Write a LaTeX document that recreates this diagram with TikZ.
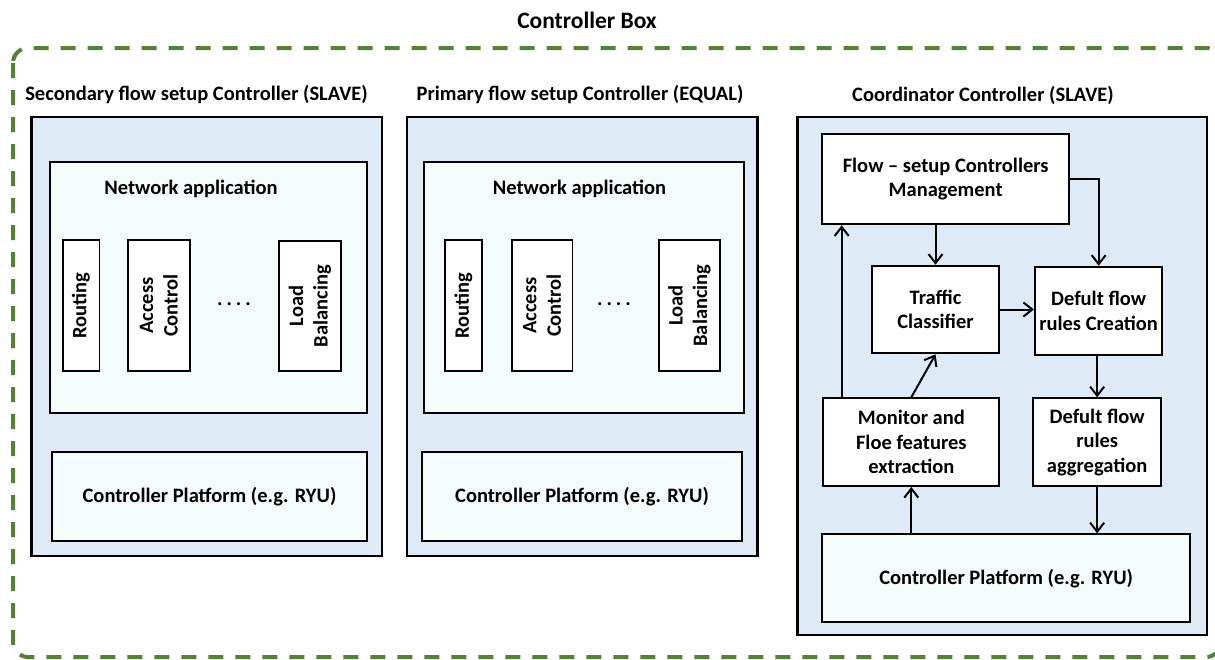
\documentclass[tikz,border=0pt]{standalone}
\usepackage{fontspec}
\setmainfont{Carlito}
\usetikzlibrary{arrows.meta}
\definecolor{panelblue}{HTML}{DEEBF7}
\definecolor{appmint}{HTML}{F3FCFA}
\definecolor{boxgreen}{HTML}{548235}
\newcommand{\moduledots}{.\hspace{4pt}.\hspace{4pt}.\hspace{4pt}.}
\tikzset{
  panel/.style={draw=black, line width=2.4pt, fill=panelblue, inner sep=0pt},
  appbox/.style={draw=black, line width=2pt, fill=appmint, inner sep=0pt, align=center},
  module/.style={draw=black, line width=1.6pt, fill=white, inner sep=0pt},
  flowbox/.style={draw=black, line width=2pt, fill=white, inner sep=0pt, align=center},
  caption/.style={inner sep=0pt, align=center},
  arr/.style={line width=2pt, -{Straight Barb[length=9pt,width=14pt]}},
}
\begin{document}
\begin{tikzpicture}[x=1pt, y=-1pt, font=\bfseries\fontsize{20.5}{24.5}\selectfont]
\useasboundingbox (0,0) rectangle (1215,659);

% outer dashed enclosure
\draw[boxgreen, line width=4pt, dash pattern=on 15pt off 12pt, rounded corners=15pt]
  (13,48) rectangle (1221,657);
\node[caption, font=\bfseries\fontsize{23.5}{28}\selectfont] (title) at (587,20) {Controller Box};

% ---------- secondary controller ----------
\node[caption] (t1) at (196.5,95) {Secondary flow setup Controller (SLAVE)};
\node[panel, minimum width=350.5pt, minimum height=439pt] (p1) at (206.75,336.5) {};
\node[appbox, minimum width=316.5pt, minimum height=251.5pt] (n1) at (208.25,287.25) {};
\node[caption] (n1t) at (191,189) {Network application};
\node[module, minimum width=36.6pt, minimum height=131pt] (r1) at (81,305.5) {};
\node[module, minimum width=62pt, minimum height=131pt] (a1) at (158.7,305.5) {};
\node[module, minimum width=61.7pt, minimum height=130pt] (l1) at (309.85,306) {};
\node[caption, rotate=90] (r1t) at (r1) {Routing};
\node[caption, rotate=90] (a1t) at (a1) {Access\\Control};
\node[caption, rotate=90] (l1t) at (l1) {Load\\Balancing};
\node[caption, anchor=base] (d1) at (234,305) {\moduledots};
\node[appbox, minimum width=314.4pt, minimum height=89.3pt] (c1) at (209.5,496.35) {Controller Platform (e.g. RYU)};

% ---------- primary controller ----------
\node[caption] (t2) at (580,95) {Primary flow setup Controller (EQUAL)};
\node[panel, minimum width=350.5pt, minimum height=439pt] (p2) at (582.25,336.5) {};
\node[appbox, minimum width=319.5pt, minimum height=251.5pt] (n2) at (583.75,287.25) {};
\node[caption] (n2t) at (579.5,189) {Network application};
\node[module, minimum width=36.7pt, minimum height=131pt] (r2) at (463.35,305.5) {};
\node[module, minimum width=60.6pt, minimum height=131pt] (a2) at (542,305.5) {};
\node[module, minimum width=61pt, minimum height=131pt] (l2) at (689.5,305.5) {};
\node[caption, rotate=90] (r2t) at (r2) {Routing};
\node[caption, rotate=90] (a2t) at (a2) {Access\\Control};
\node[caption, rotate=90] (l2t) at (l2) {Load\\Balancing};
\node[caption, anchor=base] (d2) at (614,305) {\moduledots};
\node[appbox, minimum width=319.4pt, minimum height=89.3pt] (c2) at (582,496.35) {Controller Platform (e.g. RYU)};

% ---------- coordinator controller ----------
\node[caption] (t3) at (983,95) {Coordinator Controller (SLAVE)};
\node[panel, minimum width=409.5pt, minimum height=518pt] (p3) at (1002.25,376) {};
\node[flowbox, minimum width=246.7pt, minimum height=90.3pt] (fsm) at (945.65,179.15)
  {Flow -- setup Controllers\\Management};
\node[flowbox, minimum width=127.6pt, minimum height=87.6pt] (tc) at (935.5,309.5)
  {Traffic\\Classifier};
\node[flowbox, minimum width=127.3pt, minimum height=88.3pt] (dfc) at (1098.65,310.85)
  {Defult flow\\rules Creation};
\node[flowbox, minimum width=176pt, minimum height=87.7pt] (mon) at (911.3,442.15)
  {Monitor and\\Floe features\\extraction};
\node[flowbox, minimum width=127.7pt, minimum height=87.7pt] (agg) at (1097.15,442.15)
  {Defult flow\\rules\\aggregation};
\node[appbox, minimum width=367.7pt, minimum height=88pt] (c3) at (1006.15,578.3)
  {Controller Platform (e.g. RYU)};

% connectors
\draw[arr] (fsm.south -| tc.north) -- (tc.north);
\draw[arr] (fsm.east) -| (dfc.north);
\draw[arr] (tc.east) -- (dfc.west |- tc.east);
\draw[arr] (dfc.south -| agg.north) -- (agg.north);
\draw[arr] (agg.south) -- (agg.south |- c3.north);
\draw[arr] (c3.north -| mon.south) -- (mon.south);
\draw[arr] (mon.north) -- (tc.south);
\draw[arr] ([xshift=-69.6pt]mon.north) -- ([xshift=-69.6pt]mon.north |- fsm.south);
\end{tikzpicture}
\end{document}
